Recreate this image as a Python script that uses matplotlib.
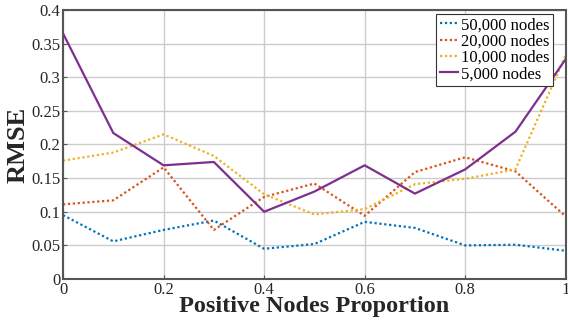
import numpy as np
import matplotlib
matplotlib.use('Agg')
import matplotlib.pyplot as plt

x = [0, 0.1, 0.2, 0.3, 0.4, 0.5, 0.6, 0.7, 0.8, 0.9, 1.0]
rmse_50k = [0.095, 0.056, 0.073, 0.087, 0.045, 0.052, 0.085, 0.076, 0.050, 0.051, 0.042]
rmse_20k = [0.111, 0.117, 0.166, 0.073, 0.122, 0.142, 0.094, 0.159, 0.181, 0.160, 0.093]
rmse_10k = [0.176, 0.188, 0.215, 0.183, 0.126, 0.096, 0.104, 0.141, 0.149, 0.163, 0.333]
rmse_5k = [0.365, 0.217, 0.169, 0.174, 0.100, 0.130, 0.169, 0.127, 0.163, 0.219, 0.327]
labels = ['50,000 nodes', '20,000 nodes', '10,000 nodes', '5,000 nodes']

plt.rcParams['font.family'] = ['Liberation Serif', 'DejaVu Serif']

fig = plt.figure(figsize=(5.68, 3.2), dpi=100)
ax = fig.add_axes([0.111, 0.128, 0.885, 0.841])

ax.plot(x, rmse_50k, color='#0072BD', ls=(0, (1, 1.2)), lw=1.6, label=labels[0])
ax.plot(x, rmse_20k, color='#D95319', ls=(0, (1, 1.2)), lw=1.6, label=labels[1])
ax.plot(x, rmse_10k, color='#EDB120', ls=(0, (1, 1.2)), lw=1.6, label=labels[2])
ax.plot(x, rmse_5k, color='#7E2F8E', ls='-', lw=1.6, label=labels[3])

ax.set_xlim(0, 1)
ax.set_ylim(0, 0.4)
ax.set_xticks([0, 0.2, 0.4, 0.6, 0.8, 1])
ax.set_xticklabels(['0', '0.2', '0.4', '0.6', '0.8', '1'])
ax.set_yticks(np.arange(0, 0.41, 0.05))
ax.set_yticklabels(['0', '0.05', '0.1', '0.15', '0.2', '0.25', '0.3', '0.35', '0.4'])
ax.tick_params(direction='in', labelsize=12, length=3, color='#555555', labelcolor='#262626', pad=2)
ax.grid(True, color='#cccccc', lw=1)
ax.set_axisbelow(True)
for s in ax.spines.values():
    s.set_color('#555555')
    s.set_linewidth(1.5)

ax.set_xlabel('Positive Nodes Proportion', fontsize=17.5, weight='bold', labelpad=-1, color='#262626')
ax.set_ylabel('RMSE', fontsize=19, weight='bold', labelpad=1, color='#262626')

leg = ax.legend(loc='upper right', fontsize=12, handlelength=1.1, handletextpad=0.2,
                borderpad=0.2, labelspacing=0.02, fancybox=False, framealpha=1,
                bbox_to_anchor=(0.975, 0.985), borderaxespad=0)
leg.get_frame().set_edgecolor('#333333')
leg.get_frame().set_linewidth(0.8)

plt.savefig('out.png', dpi=100)
